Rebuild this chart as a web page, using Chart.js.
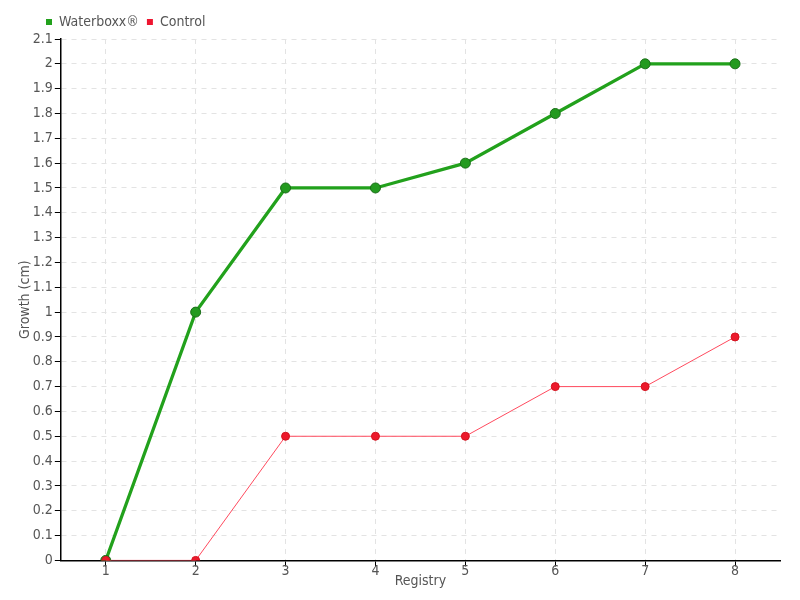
<!DOCTYPE html>
<html>
<head>
<meta charset="utf-8">
<script src="https://cdn.jsdelivr.net/npm/chart.js@4"></script>
<style>
html,body{margin:0;padding:0;background:#fff;}
#c{display:block;}
</style>
</head>
<body>
<canvas id="c" width="800" height="600"></canvas>
<script>
const categories = ['1','2','3','4','5','6','7','8'];
const waterboxx = [0, 1, 1.5, 1.5, 1.6, 1.8, 2, 2];
const control = [0, 0, 0.5, 0.5, 0.5, 0.7, 0.7, 0.9];
const seriesNames = ['Waterboxx®', 'Control'];
const yTitle = 'Growth (cm)';
const xTitle = 'Registry';

const FONT = '"DejaVu Sans Condensed", "Liberation Sans Narrow", "Roboto", sans-serif';
Chart.defaults.font.family = FONT;
Chart.defaults.color = '#555';

const legendShift = {
  id: 'legendShift',
  afterLayout(chart) {
    if (chart.legend) { chart.legend.left += 21; chart.legend.right += 21; }
  }
};

new Chart(document.getElementById('c'), {
  type: 'line',
  data: {
    labels: categories,
    datasets: [
      {
        label: seriesNames[0],
        data: waterboxx,
        borderColor: '#22a11c',
        backgroundColor: '#22a11c',
        borderWidth: 3.2,
        pointRadius: 5,
        pointHoverRadius: 5,
        pointBackgroundColor: '#239a1f',
        pointBorderColor: '#1a6e18',
        pointBorderWidth: 1,
        tension: 0,
        order: 2
      },
      {
        label: seriesNames[1],
        data: control,
        borderColor: '#ff4a5e',
        backgroundColor: '#ee1530',
        borderWidth: 1,
        pointRadius: 4,
        pointHoverRadius: 4,
        pointBackgroundColor: '#ec1a2c',
        pointBorderColor: '#d4121f',
        pointBorderWidth: 1,
        tension: 0,
        order: 1
      }
    ]
  },
  options: {
    responsive: false,
    animation: false,
    layout: { padding: { left: 17, right: 20, top: 7, bottom: 10 } },
    plugins: {
      tooltip: { enabled: false },
      legend: {
        position: 'top',
        align: 'start',
        labels: {
          boxWidth: 6,
          boxHeight: 6,
          padding: 8,
          font: { size: 14 },
          color: '#555',
          generateLabels(chart) {
            return chart.data.datasets.map((d, i) => ({
              text: d.label,
              fillStyle: d.backgroundColor,
              strokeStyle: d.backgroundColor,
              lineWidth: 0,
              hidden: false,
              datasetIndex: i,
              fontColor: '#555'
            }));
          }
        }
      }
    },
    scales: {
      x: {
        type: 'category',
        offset: true,
        grid: {
          offset: false,
          color: '#e3e3e3',
          tickColor: '#000',
          tickLength: 6,
          drawOnChartArea: true
        },
        border: { color: '#000', width: 1.5, dash: [5, 5] },
        ticks: { font: { size: 14 }, color: '#555', padding: -3 },
        title: { display: true, text: xTitle, font: { size: 14 }, color: '#555', padding: { top: -4, bottom: 0 } }
      },
      y: {
        min: 0,
        max: 2.1,
        grid: {
          color: '#e3e3e3',
          tickColor: '#000',
          tickLength: 6
        },
        border: { color: '#000', width: 1.5, dash: [5, 5] },
        ticks: {
          stepSize: 0.1,
          autoSkip: false,
          font: { size: 14 },
          color: '#555',
          padding: 2,
          callback: v => String(Number(Number(v).toFixed(1)))
        },
        title: { display: true, text: yTitle, font: { size: 14 }, color: '#555', padding: { top: 0, bottom: -3 } }
      }
    }
  },
  plugins: [legendShift]
});
</script>
</body>
</html>
